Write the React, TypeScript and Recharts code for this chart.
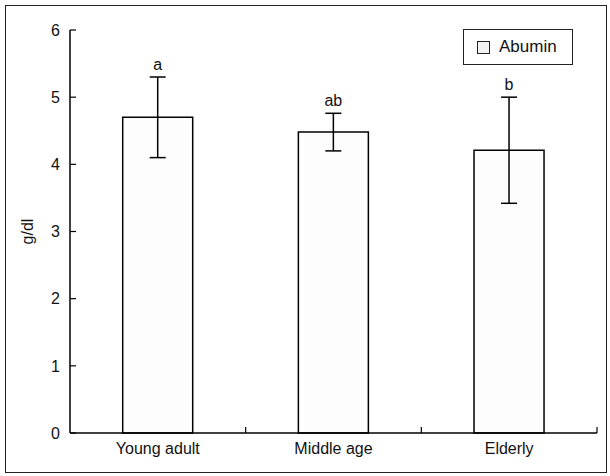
import { Bar, BarChart, ErrorBar, LabelList, XAxis, YAxis } from "recharts";

const categories = ["Young adult", "Middle age", "Elderly"];
const means = [4.7, 4.48, 4.21];
const errors = [0.6, 0.28, 0.79];
const letters = ["a", "ab", "b"];
const yTicks = [0, 1, 2, 3, 4, 5, 6];

const FONT = "'Liberation Sans', Arial, sans-serif";

const rows = categories.map((c, i) => ({
  name: c,
  value: means[i],
  err: errors[i],
  letter: letters[i],
}));

// label under the bar centre, plus a short inward tick at the right edge of each band
function XTick(props: any) {
  const { x, y, payload } = props;
  const half = payload.offset ?? 88;
  const axisY = y - 10;
  return (
    <g>
      <line x1={x + half} x2={x + half} y1={axisY} y2={axisY - 6} stroke="#000" strokeWidth={1.2} />
      <text x={x} y={y} dy="0.71em" textAnchor="middle" fontSize={16} fontFamily={FONT} fill="#111">
        {payload.value}
      </text>
    </g>
  );
}

function Letter(props: any) {
  const { x, y, width, height, index } = props;
  const errTop = y - (height * errors[index]) / means[index];
  return (
    <text x={x + width / 2} y={errTop - 7} textAnchor="middle" fontSize={16} fontFamily={FONT} fill="#111">
      {letters[index]}
    </text>
  );
}

export default function App() {
  return (
    <div style={{ position: "absolute", left: 0, top: 0, width: 610, height: 476, background: "#fff" }}>
      <div
        style={{
          position: "absolute",
          left: 5,
          top: 5,
          width: 602,
          height: 468,
          border: "1.5px solid #222",
          boxSizing: "border-box",
        }}
      />
      <BarChart
        width={610}
        height={476}
        data={rows}
        margin={{ top: 30, right: 13, bottom: 13, left: 10 }}
        barCategoryGap="30%"
        style={{ position: "absolute", left: 0, top: 0 }}
      >
        <XAxis
          dataKey="name"
          tickLine={false}
          tickSize={0}
          tickMargin={10}
          tick={<XTick />}
          interval={0}
          axisLine={{ stroke: "#000", strokeWidth: 1.5 }}
        />
        <YAxis
          domain={[0, 6]}
          ticks={yTicks}
          width={60}
          tickSize={-6}
          tickMargin={16}
          interval={0}
          axisLine={{ stroke: "#000", strokeWidth: 1.5 }}
          tickLine={{ stroke: "#000", strokeWidth: 1.2 }}
          tick={{ fill: "#111", fontSize: 16, fontFamily: FONT }}
          label={({ viewBox }: any) => (
            <text
              x={viewBox.x + 17}
              y={viewBox.y + viewBox.height / 2}
              transform={`rotate(-90 ${viewBox.x + 17} ${viewBox.y + viewBox.height / 2})`}
              textAnchor="middle"
              dominantBaseline="central"
              fontSize={16}
              fontFamily={FONT}
              fill="#111"
            >
              g/dl
            </text>
          )}
        />
        <Bar dataKey="value" fill="#fdfdfd" stroke="#000" strokeWidth={1.5} isAnimationActive={false}>
          <ErrorBar dataKey="err" width={8} stroke="#000" strokeWidth={1.5} direction="y" isAnimationActive={false} />
          <LabelList dataKey="letter" content={<Letter />} />
        </Bar>
      </BarChart>
      <div
        style={{
          position: "absolute",
          left: 463,
          top: 29,
          width: 110,
          height: 36,
          border: "1.5px solid #222",
          boxSizing: "border-box",
          background: "#fff",
          display: "flex",
          alignItems: "center",
          fontFamily: FONT,
          fontSize: 17,
          color: "#111",
        }}
      >
        <span
          style={{
            display: "inline-block",
            width: 11,
            height: 11,
            border: "1px solid #222",
            background: "#f2f2f2",
            marginLeft: 13,
            marginRight: 9,
          }}
        />
        Abumin
      </div>
    </div>
  );
}
